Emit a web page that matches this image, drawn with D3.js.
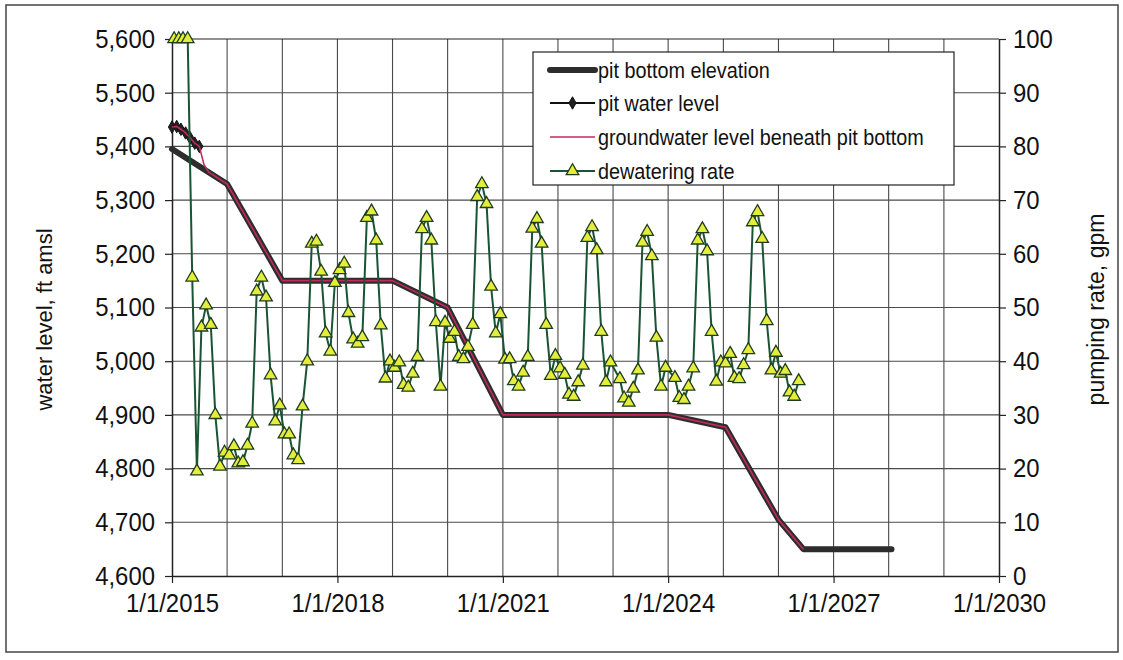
<!DOCTYPE html>
<html>
<head>
<meta charset="utf-8">
<script src="https://cdn.jsdelivr.net/npm/d3@7"></script>
<style>
  html, body { margin: 0; padding: 0; background: #fff; }
  svg { display: block; font-family: Arial, "Liberation Sans", sans-serif; }
</style>
</head>
<body>
<svg id="chart" width="1123" height="660"></svg>
<script>
// ---- data ----
// pit bottom elevation (ft amsl) at its break points
const pitBottomDates  = ["2015-01-01", "2016-01-01", "2017-01-01", "2019-01-01", "2020-01-01",
                         "2021-01-01", "2024-01-01", "2025-01-15", "2026-01-01", "2026-06-15", "2028-01-20"];
const pitBottomValues = [5395, 5330, 5150, 5150, 5100, 4900, 4900, 4877, 4705, 4650, 4650];

// pit water level (ft amsl), monthly in early 2015
const pitWaterDates  = ["2015-01-01", "2015-02-01", "2015-03-01", "2015-04-01", "2015-05-01", "2015-06-01", "2015-07-01"];
const pitWaterValues = [5436, 5437, 5432, 5425, 5416, 5406, 5400];

// groundwater level beneath pit bottom (ft amsl)
const groundwaterDates  = ["2015-01-01", "2015-02-01", "2015-03-01", "2015-04-01", "2015-05-01", "2015-06-01",
                           "2015-07-01", "2015-08-01", "2015-09-01", "2016-01-01", "2017-01-01", "2019-01-01",
                           "2020-01-01", "2021-01-01", "2024-01-01", "2025-01-15", "2026-01-01", "2026-06-15"];
const groundwaterValues = [5436, 5437, 5432, 5425, 5416, 5406, 5400, 5366, 5352, 5330, 5150, 5150,
                           5100, 4900, 4900, 4877, 4705, 4650];

// dewatering rate (gpm), one value per month from January 2015; null = no reading
const dewaterStart = "2015-01-15";
const dewaterValues = [
  100, 100, 100, 100, 55.6, 19.5, 46.3, 50.4, 46.8, 30.0, 20.4, 23.0,
  22.5, 24.2, 21.0, 21.2, 24.3, 28.4, 53.0, 55.6, 51.9, 37.4, 28.8, 31.8,
  26.4, 26.4, 22.5, 21.6, 31.6, 40.0, 61.9, 62.3, 56.7, 45.2, 41.8, 54.6,
  57.0, 58.2, 49.0, 44.1, 43.3, 44.5, 66.7, 67.9, 62.5, 46.7, 36.8, 40.0,
  38.8, 39.8, 35.6, 35.1, 37.7, 40.8, 64.6, 66.7, 62.5, 47.3, 35.3, 47.2,
  44.2, 45.5, 40.8, 40.4, 42.7, 46.8, 70.6, 73.0, 69.3, 53.9, 45.2, 48.8,
  40.3, 40.4, 36.3, 35.3, 37.9, 40.8, 64.7, 66.5, 61.9, 46.8, 37.3, 41.0,
  38.7, 37.5, 33.8, 33.4, 36.1, 39.2, 63.0, 65.0, 60.7, 45.5, 36.1, 39.8,
  null, 36.7, 33.1, 32.3, 34.9, 38.3, 62.1, 64.1, 59.6, 44.4, 35.3, 38.8,
  null, 36.9, 33.2, 32.8, 35.3, 38.7, 62.5, 64.6, 60.5, 45.5, 36.2, 39.8,
  39.6, 41.4, 36.9, 36.7, 39.3, 42.1, 65.9, 67.8, 62.8, 47.5, 38.3, 41.6,
  37.7, 38.2, 34.2, 33.4, 36.3
];

// axis ticks
const xTickYears = [2015, 2018, 2021, 2024, 2027, 2030];
const leftTicks  = [4600, 4700, 4800, 4900, 5000, 5100, 5200, 5300, 5400, 5500, 5600];
const rightTicks = [0, 10, 20, 30, 40, 50, 60, 70, 80, 90, 100];

const legendLabels = ["pit bottom elevation", "pit water level",
                      "groundwater level beneath pit bottom", "dewatering rate"];

// ---- layout ----
const plot = { left: 172, right: 999, top: 39, bottom: 576 };
const svg = d3.select("#chart");
const parse = d3.timeParse("%Y-%m-%d");

const x  = d3.scaleTime().domain([new Date(2015, 0, 1), new Date(2030, 0, 1)]).range([plot.left, plot.right]);
const yL = d3.scaleLinear().domain([4600, 5600]).range([plot.bottom, plot.top]);
const yR = d3.scaleLinear().domain([0, 100]).range([plot.bottom, plot.top]);

const colors = {
  bottom: "#2d2d2d",
  water: "#111",
  ground: "#c22a5e",
  dewLine: "#1a5434",
  dewFill: "#e4ee3a",
  grid: "#4a4a4a"
};

// squeeze text glyphs slightly horizontally
function narrow(sel, k) {
  sel.each(function () {
    const len = this.getComputedTextLength();
    d3.select(this).attr("textLength", len * k).attr("lengthAdjust", "spacingAndGlyphs");
  });
}

// outer frame
svg.append("rect").attr("x", 6).attr("y", 5).attr("width", 1112).attr("height", 647)
  .attr("fill", "none").attr("stroke", "#444").attr("stroke-width", 1.5);

// gridlines
const grid = svg.append("g");
d3.range(2016, 2030).forEach(yr => {
  const gx = x(new Date(yr, 0, 1));
  grid.append("line").attr("x1", gx).attr("x2", gx).attr("y1", plot.top).attr("y2", plot.bottom)
    .attr("stroke", colors.grid).attr("stroke-width", 1.1);
});
leftTicks.slice(1, -1).forEach(v => {
  grid.append("line").attr("x1", plot.left).attr("x2", plot.right).attr("y1", yL(v)).attr("y2", yL(v))
    .attr("stroke", colors.grid).attr("stroke-width", 1.1);
});
// top border of the plot area
svg.append("line").attr("x1", plot.left).attr("x2", plot.right).attr("y1", plot.top).attr("y2", plot.top)
  .attr("stroke", "#222").attr("stroke-width", 1.2);

// axes
const tickFont = 26;
const xAxis = svg.append("g").attr("transform", `translate(0,${plot.bottom})`)
  .call(d3.axisBottom(x).tickValues(xTickYears.map(y => new Date(y, 0, 1)))
    .tickFormat(d => `1/1/${d.getFullYear()}`).tickSize(7).tickSizeOuter(0).tickPadding(11));
const leftAxis = svg.append("g").attr("transform", `translate(${plot.left},0)`)
  .call(d3.axisLeft(yL).tickValues(leftTicks).tickFormat(d3.format(",")).tickSize(7).tickSizeOuter(0).tickPadding(10));
const rightAxis = svg.append("g").attr("transform", `translate(${plot.right},0)`)
  .call(d3.axisRight(yR).tickValues(rightTicks).tickSize(7).tickSizeOuter(0).tickPadding(7));

[xAxis, leftAxis, rightAxis].forEach(a => {
  a.selectAll(".domain").attr("stroke", "#222").attr("stroke-width", 1.5);
  a.selectAll(".tick line").attr("stroke", "#222").attr("stroke-width", 1.2);
  a.selectAll(".tick text").attr("fill", "#111").style("font-size", tickFont + "px")
    .style("font-family", "Arial, 'Liberation Sans', sans-serif");
  narrow(a.selectAll(".tick text"), 0.92);
});

// axis titles
svg.append("text").attr("transform", `translate(44,${(plot.top + plot.bottom) / 2 + 12}) rotate(-90)`)
  .attr("text-anchor", "middle").attr("dominant-baseline", "central")
  .style("font-size", "22px").attr("fill", "#111").text("water level, ft amsl");
svg.append("text").attr("transform", `translate(1096,${(plot.top + plot.bottom) / 2 + 2}) rotate(-90)`)
  .attr("text-anchor", "middle").attr("dominant-baseline", "central")
  .style("font-size", "23px").attr("fill", "#111").text("pumping rate, gpm");

// ---- series ----
const pitBottom = pitBottomDates.map((d, i) => ({ date: parse(d), v: pitBottomValues[i] }));
const pitWater = pitWaterDates.map((d, i) => ({ date: parse(d), v: pitWaterValues[i] }));
const ground = groundwaterDates.map((d, i) => ({ date: parse(d), v: groundwaterValues[i] }));
const dewStart = parse(dewaterStart);
const dewater = dewaterValues
  .map((v, i) => ({ date: d3.timeMonth.offset(dewStart, i), v }))
  .filter(d => d.v !== null);

const lineL = d3.line().x(d => x(d.date)).y(d => yL(d.v));
const lineR = d3.line().x(d => x(d.date)).y(d => yR(d.v));

// pit bottom elevation: thick dark line
svg.append("path").datum(pitBottom).attr("d", lineL)
  .attr("fill", "none").attr("stroke", colors.bottom).attr("stroke-width", 6)
  .attr("stroke-linejoin", "round").attr("stroke-linecap", "round");

// pit water level with diamond markers
svg.append("path").datum(pitWater).attr("d", lineL)
  .attr("fill", "none").attr("stroke", colors.water).attr("stroke-width", 2);
const diamond = d3.symbol().type(d3.symbolDiamond).size(45);
svg.append("g").selectAll("path").data(pitWater).join("path")
  .attr("transform", d => `translate(${x(d.date)},${yL(d.v)})`)
  .attr("d", diamond).attr("fill", "#222").attr("stroke", "#111").attr("stroke-width", 1);

// groundwater level beneath pit bottom: thin crimson line
svg.append("path").datum(ground).attr("d", lineL)
  .attr("fill", "none").attr("stroke", colors.ground).attr("stroke-width", 1.6)
  .attr("stroke-linejoin", "round");

// dewatering rate with triangle markers
svg.append("path").datum(dewater).attr("d", lineR)
  .attr("fill", "none").attr("stroke", colors.dewLine).attr("stroke-width", 2);
const tri = d3.symbol().type(d3.symbolTriangle).size(68);
svg.append("g").selectAll("path").data(dewater).join("path")
  .attr("transform", d => `translate(${x(d.date)},${yR(d.v)})`)
  .attr("d", tri).attr("fill", colors.dewFill).attr("stroke", "#1e3d1e").attr("stroke-width", 1.3);

// ---- legend ----
const lg = svg.append("g");
lg.append("rect").attr("x", 533).attr("y", 52).attr("width", 421).attr("height", 133)
  .attr("fill", "#fff").attr("stroke", "#222").attr("stroke-width", 1.2);
const rowY = [70, 103, 137, 171];
const sx1 = 550, sx2 = 595;
// sample: pit bottom
lg.append("line").attr("x1", sx1).attr("x2", sx2).attr("y1", rowY[0]).attr("y2", rowY[0])
  .attr("stroke", colors.bottom).attr("stroke-width", 6).attr("stroke-linecap", "round");
// sample: pit water level
lg.append("line").attr("x1", sx1).attr("x2", sx2).attr("y1", rowY[1]).attr("y2", rowY[1])
  .attr("stroke", colors.water).attr("stroke-width", 2);
lg.append("path").attr("transform", `translate(${(sx1 + sx2) / 2},${rowY[1]})`)
  .attr("d", diamond).attr("fill", "#222").attr("stroke", "#111");
// sample: groundwater
lg.append("line").attr("x1", sx1).attr("x2", sx2).attr("y1", rowY[2]).attr("y2", rowY[2])
  .attr("stroke", colors.ground).attr("stroke-width", 1.6);
// sample: dewatering
lg.append("line").attr("x1", sx1).attr("x2", sx2).attr("y1", rowY[3]).attr("y2", rowY[3])
  .attr("stroke", colors.dewLine).attr("stroke-width", 2);
lg.append("path").attr("transform", `translate(${(sx1 + sx2) / 2},${rowY[3]})`)
  .attr("d", tri).attr("fill", colors.dewFill).attr("stroke", "#1e3d1e").attr("stroke-width", 1.3);

const lgText = lg.selectAll("text.lab").data(legendLabels).join("text")
  .attr("class", "lab").attr("x", 598).attr("y", (d, i) => rowY[i])
  .attr("dominant-baseline", "central").style("font-size", "22px").attr("fill", "#111")
  .text(d => d);
narrow(lgText, 0.9);
</script>
</body>
</html>
